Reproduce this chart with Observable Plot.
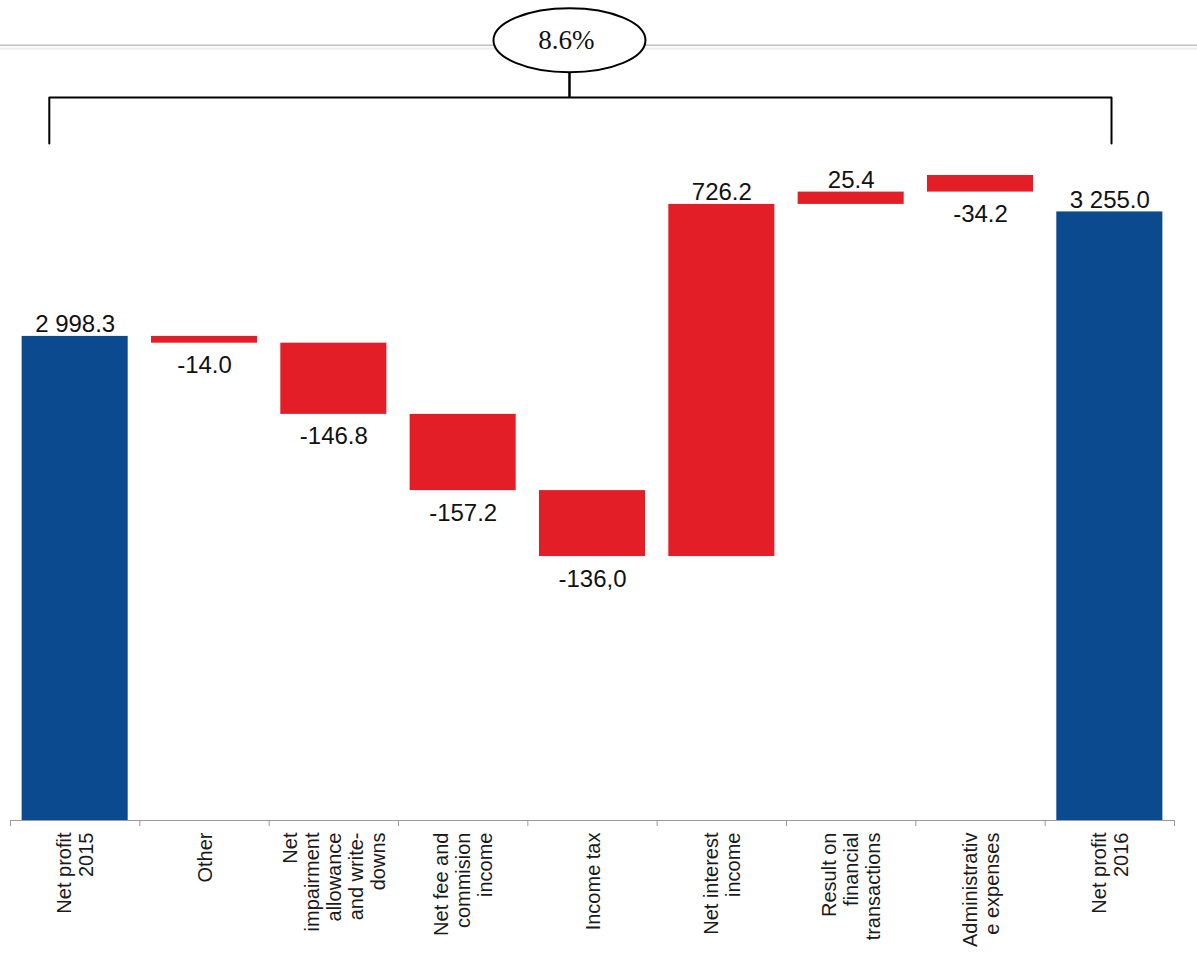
<!DOCTYPE html>
<html>
<head>
<meta charset="utf-8">
<script src="https://cdn.jsdelivr.net/npm/d3@7"></script>
<script src="https://cdn.jsdelivr.net/npm/@observablehq/plot@0.6"></script>
<style>
  html, body { margin: 0; padding: 0; background: #ffffff; }
  #chart svg { display: block; }
</style>
</head>
<body>
<div id="chart"></div>
<script>
// ---- Data ----
const categories = [
  "Net profit\n2015",
  "Other",
  "Net\nimpairment\nallowance\nand write-\ndowns",
  "Net fee and\ncommision\nincome",
  "Income tax",
  "Net interest\nincome",
  "Result on\nfinancial\ntransactions",
  "Administrativ\ne expenses",
  "Net profit\n2016"
];
const valueLabels = ["2 998.3", "-14.0", "-146.8", "-157.2", "-136,0", "726.2", "25.4", "-34.2", "3 255.0"];
const openingTotal = 2998.3;
const closingTotal = 3255.0;
// Steps as the bars are drawn in the source (the last one is drawn upward there).
const drawnSteps = [-14.0, -146.8, -157.2, -136.0, 726.2, 25.4, 34.2];
const axisMin = 2000;        // value axis of the source starts here
const axisMax = 3691;
const growthLabel = "8.6%";

// ---- Build the waterfall table ----
const rows = [];
rows.push({i: 0, lo: axisMin, hi: openingTotal, total: true, label: valueLabels[0]});
let level = openingTotal;
drawnSteps.forEach((d, k) => {
  const a = level, b = level + d;
  rows.push({i: k + 1, lo: Math.min(a, b), hi: Math.max(a, b), total: false, label: valueLabels[k + 1]});
  level = b;
});
rows.push({i: categories.length - 1, lo: axisMin, hi: closingTotal, total: true, label: valueLabels[8]});
rows.forEach(r => r.below = r.label.startsWith("-"));

const idx = categories.map((_, i) => i);
const bounds = d3.range(-0.5, categories.length, 1);

// Annotation geometry in data units
const bracketLeft = -0.2, bracketRight = 8.013, bubbleX = 3.822;
const bracketY = 3491, bracketFoot = 3396, bubbleBottom = 3541, bubbleY = 3609;
const topLineY = 3598.6, topLineY2 = 3592;

const BLUE = "#0b4a8f";
const RED = "#e41e26";

const ellipseSymbol = {
  draw(ctx) {
    const rx = 76, ry = 32, k = 0.5523;
    ctx.moveTo(rx, 0);
    ctx.bezierCurveTo(rx, ry * k, rx * k, ry, 0, ry);
    ctx.bezierCurveTo(-rx * k, ry, -rx, ry * k, -rx, 0);
    ctx.bezierCurveTo(-rx, -ry * k, -rx * k, -ry, 0, -ry);
    ctx.bezierCurveTo(rx * k, -ry, rx, -ry * k, rx, 0);
    ctx.closePath();
  }
};

const chart = Plot.plot({
  width: 1197,
  height: 955,
  marginLeft: 10,
  marginRight: 23,
  marginTop: 0,
  marginBottom: 135,
  x: {domain: [-0.5, categories.length - 0.5], axis: null},
  y: {domain: [axisMin, axisMax], axis: null},
  style: {fontFamily: "'Liberation Sans', Arial, sans-serif", background: "#ffffff", color: "#1a1a1a"},
  marks: [
    // light grey line at the top
    Plot.ruleY([topLineY], {x1: -0.58, x2: 8.7, stroke: "#bfbfbf", strokeWidth: 1.5}),
    Plot.ruleY([topLineY2], {x1: -0.58, x2: 8.7, stroke: "#ececec", strokeWidth: 2}),
    // bars
    Plot.rectY(rows.filter(d => d.total), {x1: d => d.i - 0.41, x2: d => d.i + 0.41, y1: "lo", y2: "hi", fill: BLUE}),
    Plot.rectY(rows.filter(d => !d.total), {x1: d => d.i - 0.41, x2: d => d.i + 0.41, y1: "lo", y2: "hi", fill: RED}),
    // value labels
    Plot.text(rows.filter(d => !d.below), {x: "i", y: "hi", text: "label", lineAnchor: "bottom", dy: -4, fontSize: 24, fill: "#111"}),
    Plot.text(rows.filter(d => d.below), {x: "i", y: "lo", text: "label", lineAnchor: "top", dy: 13, fontSize: 24, fill: "#111"}),
    // baseline and category ticks
    Plot.ruleY([axisMin], {stroke: "#9a9a9a", strokeWidth: 1.2}),
    Plot.axisX(bounds, {tickSize: 6, tickFormat: () => "", stroke: "#9a9a9a", label: null}),
    Plot.axisX(idx, {tickSize: 0, tickPadding: 12, tickRotate: -90, tickFormat: i => categories[i], fontSize: 20, lineHeight: 1.1, fill: "#1a1a1a", label: null}),
    // bracket annotation
    Plot.line([
      {x: bracketLeft, y: bracketFoot}, {x: bracketLeft, y: bracketY},
      {x: bracketRight, y: bracketY}, {x: bracketRight, y: bracketFoot}
    ], {x: "x", y: "y", stroke: "#000", strokeWidth: 2}),
    Plot.ruleX([bubbleX], {y1: bracketY, y2: bubbleBottom, stroke: "#000", strokeWidth: 2.5}),
    Plot.dot([{x: bubbleX, y: bubbleY}], {x: "x", y: "y", symbol: ellipseSymbol, fill: "#fff", stroke: "#000", strokeWidth: 2}),
    Plot.text([{x: bubbleX, y: bubbleY, t: growthLabel}], {x: "x", y: "y", text: "t", dx: -3, fontSize: 27, fontFamily: "'Liberation Serif', 'Times New Roman', serif", fill: "#111"})
  ]
});
document.getElementById("chart").appendChild(chart);
</script>
</body>
</html>
